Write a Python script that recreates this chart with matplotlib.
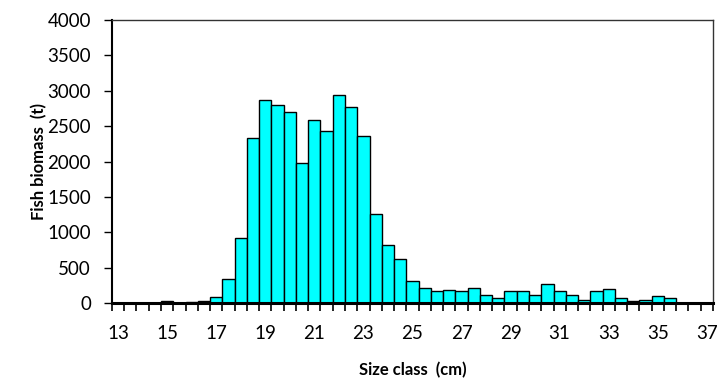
import numpy as np
import matplotlib
matplotlib.use("Agg")
import matplotlib.pyplot as plt

plt.rcParams["font.family"] = ["Lato", "DejaVu Sans"]

# size classes, 0.5 cm steps from 13 to 37
size_class = [13 + 0.5 * i for i in range(49)]
biomass = [
    0, 0, 0, 0, 25, 0, 20, 25, 92, 337,          # 13 - 17.5
    917, 2339, 2867, 2801, 2702, 1980, 2582, 2438, 2943, 2778,  # 18 - 22.5
    2362, 1253, 819, 620, 309, 215, 168, 191, 166, 215,  # 23 - 27.5
    120, 68, 170, 170, 120, 266, 172, 120, 50, 172,  # 28 - 32.5
    196, 68, 30, 50, 96, 73, 0, 0, 0,  # 33 - 37
]
tick_labels = [str(int(v)) if v % 2 == 1 and v == int(v) else "" for v in size_class]

fig = plt.figure(figsize=(7.22, 3.78), dpi=100)
ax = fig.add_axes([0.155, 0.198, 0.8325, 0.749])

x = np.arange(len(size_class))
ax.bar(x, biomass, width=1.0, color="#00FFFF", edgecolor="black", linewidth=1.0, zorder=2)

ax.set_xlim(-0.5, len(size_class) - 0.5)
ax.set_ylim(0, 4000)
ax.set_yticks(range(0, 4001, 500))

# labels at centres of every 4th class, ticks at class boundaries
ax.set_xticks(x[::4])
ax.set_xticklabels([tick_labels[i] for i in x[::4]])
ax.tick_params(axis="x", which="major", length=0, pad=16, labelsize=13.5)
ax.set_xticks(np.arange(-0.5, len(size_class), 1.0), minor=True)
ax.tick_params(axis="x", which="minor", length=6, width=1.2, direction="out")
ax.tick_params(axis="y", length=6, width=1.0, direction="out", labelsize=13.5, pad=9)

ax.spines["bottom"].set_linewidth(2.2)
ax.spines["left"].set_linewidth(1.5)
ax.spines["top"].set_linewidth(1.0)
ax.spines["right"].set_linewidth(1.0)
ax.spines["top"].set_color("#333333")
ax.spines["right"].set_color("#333333")
ax.spines["bottom"].set_zorder(3)

ax.set_xlabel("Size class  (cm)", fontsize=12, fontweight="bold", labelpad=14)
ax.set_ylabel("Fish biomass  (t)", fontsize=12, fontweight="bold", labelpad=0)

fig.savefig("out.png", dpi=100)
